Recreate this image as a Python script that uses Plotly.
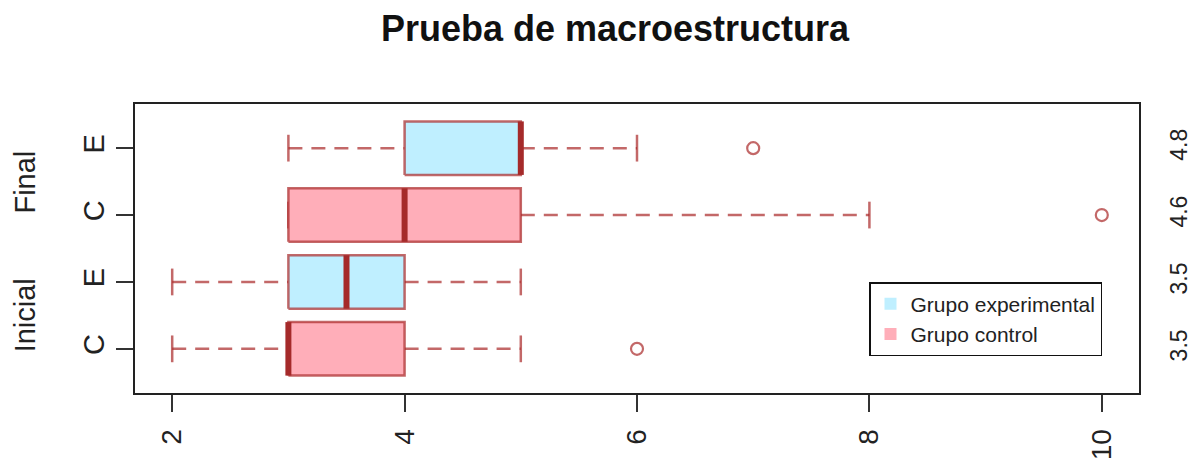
import plotly.graph_objects as go

# ---- data ----
stages = ["Inicial", "Inicial", "Final", "Final"]
groups = ["C", "E", "C", "E"]
group_names = {"C": "Grupo control", "E": "Grupo experimental"}
means = ["3.5", "3.5", "4.6", "4.8"]
whisker_lo = [2, 2, 3, 3]
q1 = [3, 3, 3, 4]
median = [3, 3.5, 4, 5]
q3 = [4, 4, 5, 5]
whisker_hi = [5, 5, 8, 6]
outliers = [[6], [], [10], [7]]
x_ticks = [2, 4, 6, 8, 10]

# ---- style ----
fill_col = {"C": "#FFAEB9", "E": "#BFEFFF"}
border = "rgba(170,40,40,0.70)"
med_col = "#A52A2A"
FONT = "Liberation Sans, Arial, sans-serif"
half = 0.4
cap = 0.2

positions = list(range(1, len(groups) + 1))
fig = go.Figure()

for i, p in enumerate(positions):
    g = groups[i]
    # whiskers (dashed)
    fig.add_trace(go.Scatter(x=[whisker_lo[i], q1[i]], y=[p, p], mode="lines",
                             line=dict(color=border, width=2.5, dash="14px,9px"),
                             showlegend=False, hoverinfo="skip"))
    fig.add_trace(go.Scatter(x=[q3[i], whisker_hi[i]], y=[p, p], mode="lines",
                             line=dict(color=border, width=2.5, dash="14px,9px"),
                             showlegend=False, hoverinfo="skip"))
    # staples
    for w in (whisker_lo[i], whisker_hi[i]):
        fig.add_trace(go.Scatter(x=[w, w], y=[p - cap, p + cap], mode="lines",
                                 line=dict(color=border, width=2.5),
                                 showlegend=False, hoverinfo="skip"))
    # box
    fig.add_trace(go.Scatter(x=[q1[i], q3[i], q3[i], q1[i], q1[i]],
                             y=[p - half, p - half, p + half, p + half, p - half],
                             mode="lines", fill="toself", fillcolor=fill_col[g],
                             line=dict(color=border, width=2.5),
                             showlegend=False, hoverinfo="skip"))
    # median
    fig.add_trace(go.Scatter(x=[median[i], median[i]], y=[p - half, p + half], mode="lines",
                             line=dict(color=med_col, width=6),
                             showlegend=False, hoverinfo="skip"))
    # outliers
    if outliers[i]:
        fig.add_trace(go.Scatter(x=outliers[i], y=[p] * len(outliers[i]), mode="markers",
                                 marker=dict(symbol="circle-open", size=12, color=border,
                                             line=dict(width=2.2, color=border)),
                                 showlegend=False, hoverinfo="skip"))

# legend entries
for g in ["E", "C"]:
    fig.add_trace(go.Scatter(x=[None], y=[None], mode="markers", name=group_names[g],
                             marker=dict(symbol="square", size=20, color=fill_col[g])))

# invisible trace on right axis
fig.add_trace(go.Scatter(x=[None], y=[None], yaxis="y2", showlegend=False))

# group labels
for s in ["Inicial", "Final"]:
    idx = [p for p, st in zip(positions, stages) if st == s]
    fig.add_annotation(text=s, xref="paper", yref="y", x=-0.1096, y=sum(idx) / len(idx),
                       textangle=-90, showarrow=False, xanchor="center", yanchor="middle",
                       font=dict(family=FONT, size=29, color="#222"))

fig.update_layout(
    width=1195, height=461,
    margin=dict(l=135, r=56, t=104, b=68),
    paper_bgcolor="white", plot_bgcolor="white",
    title=dict(text="<b>Prueba de macroestructura</b>", x=615 / 1195, xref="container",
               xanchor="center", y=1 - 28 / 461, yref="container", yanchor="middle",
               font=dict(family=FONT, size=36, color="#111")),
    xaxis=dict(range=[1.68, 10.32], tickvals=x_ticks, ticktext=[str(v) for v in x_ticks],
               tickangle=-90, ticks="outside", ticklen=17, tickwidth=2, tickcolor="#333",
               showline=True, linecolor="#222", linewidth=2, mirror=True,
               showgrid=False, zeroline=False, ticklabelstandoff=6, automargin=False,
               tickfont=dict(family=FONT, size=28, color="#222")),
    yaxis=dict(range=[0.34, 4.66], tickvals=positions, ticktext=groups,
               tickangle=-90, ticks="outside", ticklen=17, tickwidth=2, tickcolor="#333",
               showline=True, linecolor="#222", linewidth=2, mirror=True,
               showgrid=False, zeroline=False, ticklabelstandoff=0, automargin=False,
               tickfont=dict(family=FONT, size=29, color="#222")),
    yaxis2=dict(range=[0.34, 4.66], overlaying="y", side="right", tickvals=positions,
                ticktext=means, tickangle=-90, ticks="", showline=False, showgrid=False,
                zeroline=False, ticklabelstandoff=24, automargin=False,
                tickfont=dict(family=FONT, size=23, color="#222")),
    legend=dict(x=734 / 1004, y=111 / 289, xanchor="left", yanchor="top",
                bordercolor="#111", borderwidth=1.5, bgcolor="white",
                font=dict(family=FONT, size=21, color="#222"), traceorder="normal",
                itemsizing="constant"),
    showlegend=True,
)

fig.write_html("out.html", config={"displayModeBar": False},
               post_script="document.body.style.margin='0';document.body.style.overflow='hidden';")
